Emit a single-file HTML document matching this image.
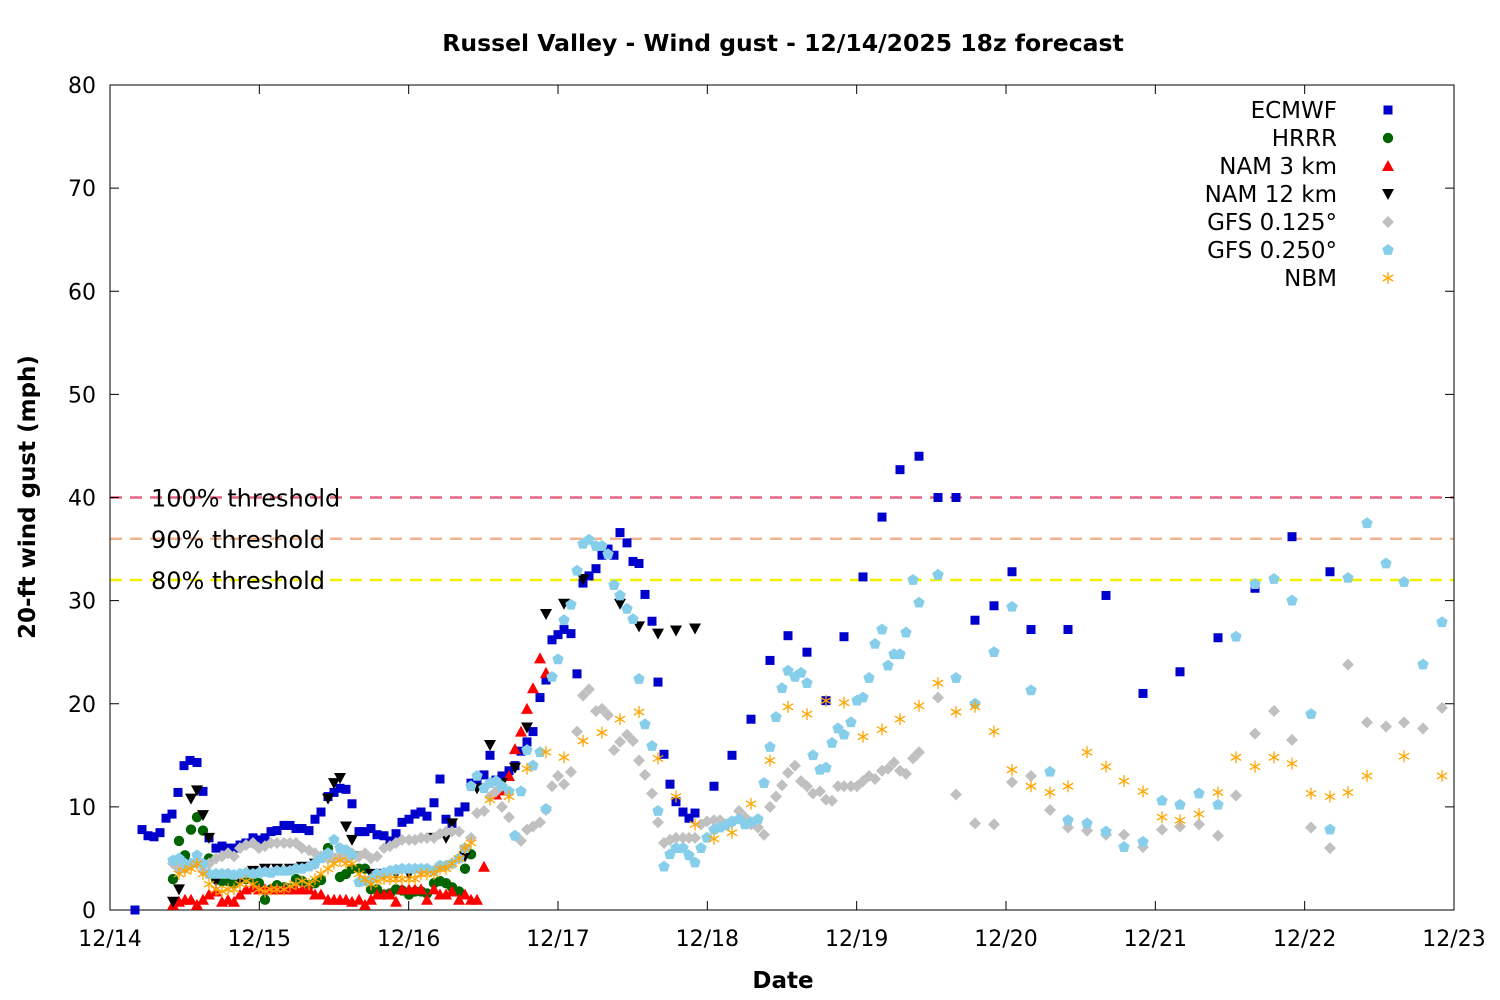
<!DOCTYPE html>
<html><head><meta charset="utf-8"><style>
html,body{margin:0;padding:0;background:#fff}
svg{display:block;font-family:"Liberation Sans","DejaVu Sans",sans-serif}
</style></head><body>
<svg id="s" width="1500" height="1000" xmlns="http://www.w3.org/2000/svg">
<rect width="1500" height="1000" fill="#fff"/>
<text x="783" y="51" text-anchor="middle" font-size="23.5" font-weight="bold" font-family="DejaVu Sans, sans-serif">Russel Valley - Wind gust - 12/14/2025 18z forecast</text>
<text x="783" y="988" text-anchor="middle" font-size="23" font-weight="bold" font-family="DejaVu Sans, sans-serif">Date</text>
<text transform="translate(35,497) rotate(-90)" text-anchor="middle" font-size="23" font-weight="bold" font-family="DejaVu Sans, sans-serif">20-ft wind gust (mph)</text>
<g id="g"></g>
</svg>
<script>
var NS="http://www.w3.org/2000/svg",g=document.getElementById('g');
function el(t,a,txt){var e=document.createElementNS(NS,t);for(var k in a)e.setAttribute(k,a[k]);if(txt!=null)e.textContent=txt;g.appendChild(e);return e;}
var X0=110,X1=1454,Y0=910,Y1=85;function Y(v){return Y0-(Y0-Y1)*v/80;}
[[40,'#e8647e','100% threshold'],[36,'#f2b48c','90% threshold'],[32,'#f0f000','80% threshold']].forEach(function(t){
el('line',{x1:X0,x2:X1,y1:Y(t[0]),y2:Y(t[0]),stroke:t[1],'stroke-width':2.5,'stroke-dasharray':'12,8'});
el('text',{x:151,y:Y(t[0])+9,'font-size':24,'font-family':'DejaVu Sans, sans-serif'},t[2]);});
el('rect',{x:X0,y:Y1,width:X1-X0,height:Y0-Y1,fill:'none',stroke:'#000','stroke-width':1});
for(var v=0;v<=80;v+=10){var y=Y(v);el('line',{x1:X0,x2:X0+9,y1:y,y2:y,stroke:'#000'});el('line',{x1:X1,x2:X1-9,y1:y,y2:y,stroke:'#000'});
el('text',{x:96,y:y+8,'text-anchor':'end','font-size':22,'font-family':'DejaVu Sans, sans-serif'},v);}
var days=['12/14','12/15','12/16','12/17','12/18','12/19','12/20','12/21','12/22','12/23'];
days.forEach(function(d,i){var x=X0+i*(X1-X0)/9;el('line',{x1:x,x2:x,y1:Y0,y2:Y0-9,stroke:'#000'});el('line',{x1:x,x2:x,y1:Y1,y2:Y1+9,stroke:'#000'});
el('text',{x:x,y:946,'text-anchor':'middle','font-size':22,'font-family':'DejaVu Sans, sans-serif'},d);});
function mk(type,col,x,y){var s=4.5;
if(type=='sq')el('rect',{x:x-s,y:y-s,width:2*s,height:2*s,fill:col});
else if(type=='ci')el('circle',{cx:x,cy:y,r:5.2,fill:col});
else if(type=='tu')el('polygon',{points:(x-6)+','+(y+5)+' '+(x+6)+','+(y+5)+' '+x+','+(y-6),fill:col});
else if(type=='td')el('polygon',{points:(x-6)+','+(y-5)+' '+(x+6)+','+(y-5)+' '+x+','+(y+6),fill:col});
else if(type=='di')el('polygon',{points:x+','+(y-6)+' '+(x+6)+','+y+' '+x+','+(y+6)+' '+(x-6)+','+y,fill:col});
else if(type=='pe'){var p=[];for(var i=0;i<5;i++){var a=-Math.PI/2+i*2*Math.PI/5;p.push((x+6*Math.cos(a))+','+(y+6*Math.sin(a)));}el('polygon',{points:p.join(' '),fill:col});}
else if(type=='as'){for(var i=0;i<3;i++){var a=Math.PI/2+i*Math.PI/3;el('line',{x1:x-6*Math.cos(a),y1:y-6*Math.sin(a),x2:x+6*Math.cos(a),y2:y+6*Math.sin(a),stroke:col,'stroke-width':1.3});}}
}
var S=[
['sq','#0000cc',[[135,0],[142,7.8],[148,7.2],[154,7.1],[160,7.5],[166,8.9],[172,9.3],[178,11.4],[184,14],[190,14.5],[197,14.3],[203,11.5],[209,7],[216,6],[222,6.2],[228,6],[234,6],[240,6.3],[246,6.5],[253,7],[259,6.8],[265,7],[271,7.6],[277,7.7],[284,8.2],[290,8.2],[296,7.9],[302,7.9],[309,7.7],[315,8.8],[321,9.5],[328,11],[334,11.4],[340,11.8],[346,11.7],[352,10.3],[359,7.6],[365,7.6],[371,7.9],[377,7.3],[384,7.2],[390,6.7],[396,7.4],[402,8.5],[409,8.8],[415,9.3],[421,9.5],[427,9.1],[434,10.4],[440,12.7],[446,8.8],[452,8.4],[459,9.5],[465,10],[471,12.3],[477,12.4],[484,13.1],[490,15],[496,12.6],[502,13],[509,13.5],[515,14],[521,15.4],[527,16.3],[533,17.3],[540,20.6],[546,22.3],[552,26.2],[558,26.7],[564,27.2],[571,26.8],[577,22.9],[583,31.7],[589,32.4],[596,33.1],[602,34.4],[608,35],[614,34.4],[620,36.6],[627,35.6],[633,33.8],[639,33.6],[645,30.6],[652,28],[658,22.1],[664,15.1],[670,12.2],[676,10.5],[683,9.5],[689,8.9],[695,9.4],[714,12],[732,15],[751,18.5],[770,24.2],[788,26.6],[807,25],[826,20.3],[844,26.5],[863,32.3],[882,38.1],[900,42.7],[919,44],[938,40],[956,40],[975,28.1],[994,29.5],[1012,32.8],[1031,27.2],[1068,27.2],[1106,30.5],[1143,21],[1180,23.1],[1218,26.4],[1255,31.2],[1292,36.2],[1330,32.8]]],
['ci','#006400',[[173,3],[179,6.7],[185,5.3],[191,7.8],[197,9],[203,7.7],[209,5],[216,3],[222,2.8],[228,2.8],[234,2.6],[240,3.3],[246,3],[253,3],[259,2.6],[265,1],[271,2],[277,2.4],[284,2.2],[290,2.1],[296,3],[302,2.8],[309,2.4],[315,2.6],[321,2.9],[328,6],[334,5],[340,3.2],[346,3.5],[352,4],[359,4],[365,4],[371,2],[377,2],[384,1.5],[390,1.6],[396,2],[402,1.9],[409,1.5],[415,1.8],[421,1.8],[427,1.6],[434,2.6],[440,2.8],[446,2.6],[452,2.2],[459,1.8],[465,4],[471,5.4]]],
['tu','#ff0000',[[173,0.5],[179,0.8],[185,1],[191,1],[197,0.5],[203,1],[209,1.5],[216,1.8],[222,0.8],[228,1],[234,0.8],[240,1.5],[246,2],[253,2.2],[259,2],[265,2],[271,2],[277,2],[284,2],[290,2],[296,2],[302,2],[309,2],[315,1.5],[321,1.5],[328,1],[334,1],[340,1],[346,1],[352,0.8],[359,1],[365,0.5],[371,1],[377,1.5],[384,1.5],[390,1.5],[396,0.8],[402,2],[409,2],[415,2],[421,2],[427,1],[434,2],[440,1.5],[446,1.5],[452,1.8],[459,1],[465,1.5],[471,1],[477,1],[484,4.2],[496,11.2],[502,11.6],[509,13],[515,15.6],[521,17.3],[527,19.5],[533,21.5],[540,24.4],[546,23]]],
['td','#000000',[[173,0.8],[179,2],[185,4.5],[191,10.8],[197,11.6],[203,9.2],[209,7],[216,2.8],[240,3],[253,3.8],[265,4],[277,4],[290,4],[302,4.2],[315,4.5],[328,10.8],[334,12.3],[340,12.8],[346,8.1],[352,6.8],[359,5.2],[371,3.5],[384,3.5],[396,3.5],[409,3.5],[421,3.8],[434,7],[446,7],[452,8.4],[465,5.2],[477,11.8],[490,16],[502,12.3],[515,13.8],[527,17.7],[546,28.7],[564,29.7],[583,32.1],[620,29.7],[639,27.5],[658,26.8],[676,27.1],[695,27.3]]],
['di','#c0c0c0',[[173,4.5],[179,4],[185,4],[191,4.5],[197,4.5],[203,3.8],[209,4.5],[216,5],[222,5.2],[228,5.5],[234,5.2],[240,6],[246,6.3],[253,6.5],[259,6],[265,6.2],[271,6.5],[277,6.5],[284,6.5],[290,6.5],[296,6.5],[302,6],[309,5.8],[315,5.5],[321,5.2],[328,5],[334,5],[340,5.2],[346,5],[352,5.5],[359,5.2],[365,5.5],[371,5],[377,5.2],[384,6],[390,6.2],[396,6.5],[402,6.8],[409,6.8],[415,6.8],[421,7],[427,7],[434,7],[440,7.4],[446,7.6],[452,7.6],[459,7.6],[465,6],[471,7],[477,9.4],[484,9.6],[490,11],[496,11.5],[502,10],[509,9],[515,7.2],[521,6.7],[527,7.8],[533,8.1],[540,8.5],[546,9.7],[552,12],[558,13],[564,12.2],[571,13.4],[577,17.3],[583,20.8],[589,21.4],[596,19.3],[602,19.5],[608,18.9],[614,15.5],[620,16.3],[627,17],[633,16.4],[639,14.5],[645,13.1],[652,11.3],[658,8.5],[664,6.5],[670,6.8],[676,7],[683,7],[689,7],[695,7],[701,8.3],[707,8.6],[714,8.7],[720,8.7],[726,8.3],[732,8.5],[739,9.6],[745,9],[751,8.3],[758,8],[764,7.3],[770,10],[776,11],[782,12.1],[788,13.3],[795,14],[801,12.5],[807,12],[813,11.3],[820,11.5],[826,10.7],[832,10.6],[838,12],[844,12],[851,12],[857,12],[863,12.5],[869,13],[875,12.7],[882,13.5],[888,13.7],[894,14.3],[900,13.5],[906,13.2],[913,14.7],[919,15.3],[938,20.6],[956,11.2],[975,8.4],[994,8.3],[1012,12.4],[1031,13],[1050,9.7],[1068,8],[1087,7.7],[1106,7.3],[1124,7.3],[1143,6.1],[1162,7.8],[1180,8.1],[1199,8.3],[1218,7.2],[1236,11.1],[1255,17.1],[1274,19.3],[1292,16.5],[1311,8],[1330,6],[1348,23.8],[1367,18.2],[1386,17.8],[1404,18.2],[1423,17.6],[1442,19.6]]],
['pe','#87ceeb',[[173,4.8],[179,5],[185,4.5],[191,4.5],[197,5.3],[203,4.5],[209,3.5],[216,3.5],[222,3.5],[228,3.5],[234,3.4],[240,3.5],[246,3.6],[253,3.5],[259,3.6],[265,3.7],[271,3.6],[277,3.8],[284,3.8],[290,3.8],[296,4],[302,4],[309,4.2],[315,4.5],[321,5],[328,5.5],[334,6.8],[340,6],[346,5.8],[352,5.3],[359,2.7],[365,2.8],[371,3],[377,3.5],[384,3.6],[390,3.8],[396,3.9],[402,4],[409,4],[415,4],[421,4],[427,4],[434,3.8],[440,4.3],[446,4.3],[452,4.5],[459,5],[465,6],[471,12],[477,13],[484,11.8],[490,12.3],[496,12.5],[502,12],[509,11.5],[515,7.2],[521,11.5],[527,15.5],[533,14],[540,15.3],[546,9.8],[552,22.6],[558,24.3],[564,28.1],[571,29.6],[577,32.9],[583,35.5],[589,35.9],[596,35.3],[602,35.3],[608,34.5],[614,31.5],[620,30.5],[627,29.2],[633,28.2],[639,22.4],[645,18],[652,15.9],[658,9.6],[664,4.2],[670,5.4],[676,6],[683,6],[689,5.3],[695,4.6],[701,6],[707,7],[714,7.8],[720,8],[726,8.2],[732,8.6],[739,8.8],[745,8.3],[751,8.5],[758,8.8],[764,12.3],[770,15.8],[776,18.7],[782,21.5],[788,23.2],[795,22.6],[801,23],[807,22],[813,15],[820,13.6],[826,13.8],[832,16.2],[838,17.6],[844,17],[851,18.2],[857,20.3],[863,20.6],[869,22.5],[875,25.8],[882,27.2],[888,23.7],[894,24.8],[900,24.8],[906,26.9],[913,32],[919,29.8],[938,32.5],[956,22.5],[975,20],[994,25],[1012,29.4],[1031,21.3],[1050,13.4],[1068,8.7],[1087,8.4],[1106,7.6],[1124,6.1],[1143,6.6],[1162,10.6],[1180,10.2],[1199,11.3],[1218,10.2],[1236,26.5],[1255,31.6],[1274,32.1],[1292,30],[1311,19],[1330,7.8],[1348,32.2],[1367,37.5],[1386,33.6],[1404,31.8],[1423,23.8],[1442,27.9]]],
['as','#ffa500',[[179,3.5],[185,3.8],[191,4],[197,4.5],[203,3.5],[209,2.5],[216,2],[222,1.8],[228,2],[234,2],[240,2.5],[246,2.8],[253,2.5],[259,2],[265,1.8],[271,2],[277,2],[284,2],[290,2.3],[296,2.5],[302,2.8],[309,2.5],[315,3],[321,3.5],[328,4],[334,4.5],[340,4.8],[346,4.5],[352,4.5],[359,3.5],[365,3],[371,2.5],[377,2.8],[384,3],[390,3],[396,3],[402,3],[409,3],[415,3],[421,3.5],[427,3.5],[434,3.5],[440,4],[446,4],[452,4.5],[459,5],[465,6],[471,6.5],[490,10.7],[509,11],[527,13.7],[546,15.3],[564,14.8],[583,16.4],[602,17.2],[620,18.5],[639,19.2],[658,14.7],[676,11],[695,8.3],[714,6.9],[732,7.5],[751,10.3],[770,14.5],[788,19.7],[807,19],[826,20.3],[844,20.1],[863,16.8],[882,17.5],[900,18.5],[919,19.8],[938,22],[956,19.2],[975,19.7],[994,17.3],[1012,13.6],[1031,12],[1050,11.4],[1068,12],[1087,15.3],[1106,13.9],[1124,12.5],[1143,11.5],[1162,9],[1180,8.7],[1199,9.3],[1218,11.4],[1236,14.8],[1255,13.9],[1274,14.8],[1292,14.2],[1311,11.3],[1330,11],[1348,11.4],[1367,13],[1404,14.9],[1442,13]]]];
var names=['ECMWF','HRRR','NAM 3 km','NAM 12 km','GFS 0.125°','GFS 0.250°','NBM'];
S.forEach(function(s,i){s[2].forEach(function(p){mk(s[0],s[1],p[0],Y(p[1]));});
var ly=110+i*28;el('text',{x:1337,y:ly+8,'text-anchor':'end','font-size':23,'font-family':'DejaVu Sans, sans-serif'},names[i]);mk(s[0],s[1],1388,ly);});
</script>
</body></html>
